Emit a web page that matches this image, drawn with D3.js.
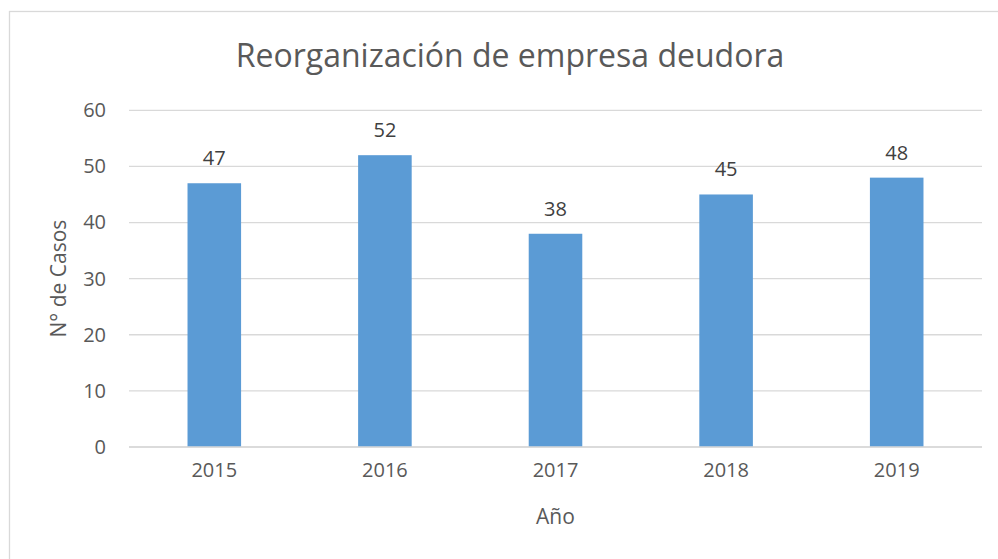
<!DOCTYPE html>
<html>
<head>
<meta charset="utf-8">
<script src="https://cdn.jsdelivr.net/npm/d3@7"></script>
<style>
  body { margin: 0; background: #fff; }
  text { font-family: "Open Sans", sans-serif; }
</style>
</head>
<body>
<div id="chart"></div>
<script>
const years = ["2015", "2016", "2017", "2018", "2019"]
const casos = [47, 52, 38, 45, 48]
const yTicks = [0, 10, 20, 30, 40, 50, 60]

const width = 998
const height = 559
const margin = { top: 110.3, bottom: 112, left: 129, right: 16 }

const svg = d3.select("div#chart").append("svg").attr("width", width).attr("height", height)

// marco del gráfico
svg.append("rect")
    .attr("x", 9.5).attr("y", 11.5)
    .attr("width", 1010).attr("height", 600)
    .attr("fill", "none").attr("stroke", "#d9d9d9").attr("stroke-width", 1.3)

const x = d3.scaleBand().domain(years).range([margin.left, width - margin.right])
    .paddingInner(0.686).paddingOuter(0.343)
const y = d3.scaleLinear().domain([0, 60]).range([height - margin.bottom, margin.top])

// grid
const grid = svg.append("g").attr("class", "grid")
grid.selectAll("line").data(yTicks).enter().append("line")
    .attr("x1", margin.left).attr("x2", width - margin.right)
    .attr("y1", d => y(d)).attr("y2", d => y(d))
    .attr("stroke", "#d9d9d9").attr("stroke-width", 1.3)

// eje y
const yAxis = d3.axisLeft(y).tickValues(yTicks).tickSize(0).tickPadding(23)
const yAxisGroup = svg.append("g").attr("transform", `translate(${margin.left}, 0)`).call(yAxis)
yAxisGroup.select(".domain").remove()
yAxisGroup.selectAll("text").attr("fill", "#595959").style("font-size", "20px")

// barras
svg.append("g").selectAll("rect").data(casos).enter().append("rect")
    .attr("x", (d, i) => x(years[i]))
    .attr("y", d => y(d))
    .attr("width", x.bandwidth())
    .attr("height", d => y(0) - y(d))
    .attr("fill", "#5b9bd5")

// eje x
const xAxis = d3.axisBottom(x).tickSize(0).tickPadding(16)
const xAxisGroup = svg.append("g").attr("transform", `translate(0, ${y(0)})`).call(xAxis)
xAxisGroup.select(".domain").remove()
xAxisGroup.selectAll("text").attr("fill", "#595959").style("font-size", "20px")
svg.append("line")
    .attr("x1", margin.left).attr("x2", width - margin.right)
    .attr("y1", y(0)).attr("y2", y(0))
    .attr("stroke", "#d9d9d9").attr("stroke-width", 1.3)

// etiquetas de datos
svg.append("g").selectAll("text").data(casos).enter().append("text")
    .attr("x", (d, i) => x(years[i]) + x.bandwidth() / 2)
    .attr("y", d => y(d) - 18)
    .attr("text-anchor", "middle")
    .attr("fill", "#404040")
    .style("font-size", "20px")
    .text(d => d)

// títulos
svg.append("text")
    .attr("x", 510).attr("y", 67)
    .attr("text-anchor", "middle")
    .attr("fill", "#595959")
    .style("font-size", "32px")
    .text("Reorganización de empresa deudora")

svg.append("text")
    .attr("x", (margin.left + width - margin.right) / 2).attr("y", 524)
    .attr("text-anchor", "middle")
    .attr("fill", "#595959")
    .style("font-size", "21px")
    .text("Año")

svg.append("text")
    .attr("transform", `translate(66, ${(y(0) + y(60)) / 2}) rotate(-90)`)
    .attr("text-anchor", "middle")
    .attr("fill", "#595959")
    .style("font-size", "21px")
    .text("N° de Casos")
</script>
</body>
</html>
